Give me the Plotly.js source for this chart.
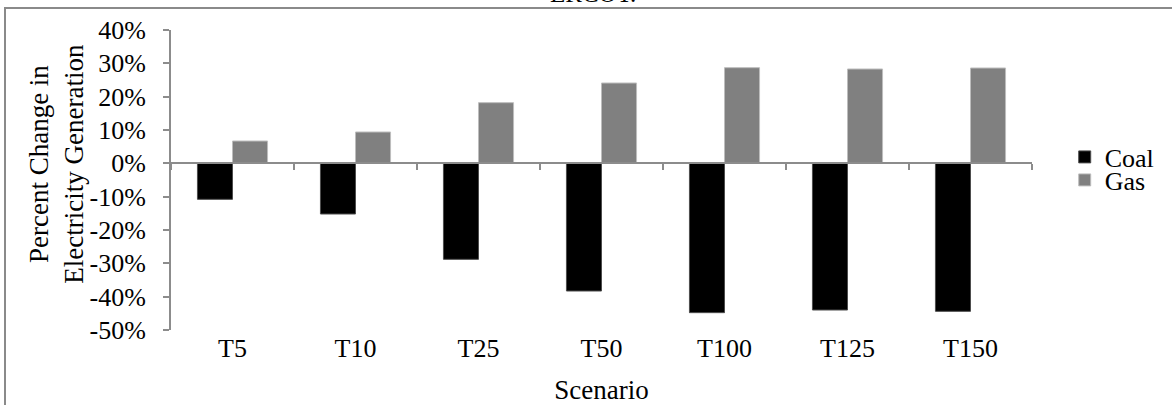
<!DOCTYPE html>
<html>
<head>
<meta charset="utf-8">
<script src="https://cdn.plot.ly/plotly-3.0.1.min.js"></script>
<style>
  html, body { margin: 0; padding: 0; background: #fff; }
  #wrap { position: relative; width: 1172px; height: 405px; overflow: hidden; }
  #chart { width: 1172px; height: 405px; }
  /* open frame around the figure: left and top edges only */
  #frame { position: absolute; left: 4px; top: 7px; width: 1200px; height: 500px;
           border-left: 2px solid #8a8a8a; border-top: 2px solid #8a8a8a;
           pointer-events: none; }
</style>
</head>
<body>
<div id="wrap">
  <div id="chart"></div>
  <div id="frame"></div>
</div>
<script>
// Scenarios and percent change in generation by fuel
const scenarios = ["T5", "T10", "T25", "T50", "T100", "T125", "T150"];
const coalChange = [-10.8, -15.2, -28.8, -38.3, -44.8, -44.0, -44.4];
const gasChange = [6.7, 9.4, 18.2, 24.1, 28.7, 28.3, 28.6];
const yTicks = [40, 30, 20, 10, 0, -10, -20, -30, -40, -50];

const FONT = "Liberation Serif, Times New Roman, serif";
const FS = 26;        // tick labels and legend
const FS_TITLE = 27;  // axis titles
const AXIS_GRAY = "#8c8c8c";
const yMin = -50, yMax = 40;

// plot area in pixels
const M = { l: 171, r: 135, t: 30, b: 75 };
const W = 1172, H = 405;
const plotW = W - M.l - M.r, plotH = H - M.t - M.b;
const px2x = (px) => (px - M.l) / plotW;
const py2y = (py) => (H - M.b - py) / plotH;

const traces = [
  {
    type: "bar", name: "Coal", x: scenarios, y: coalChange, legend: "legend",
    marker: { color: "#000000", line: { color: "#4d4d4d", width: 1 } },
    hoverinfo: "x+y"
  },
  {
    type: "bar", name: "Gas", x: scenarios, y: gasChange, legend: "legend2",
    marker: { color: "#808080", line: { color: "#bdbdbd", width: 1 } },
    hoverinfo: "x+y"
  },
  {
    // carrier for the category axis drawn along the zero line
    type: "scatter", mode: "markers", x: scenarios, y: scenarios.map(() => 0),
    xaxis: "x2", yaxis: "y", marker: { opacity: 0 }, showlegend: false, hoverinfo: "skip"
  }
];

const legendStyle = (yPos) => ({
  x: 1.038, xanchor: "left", y: yPos, yanchor: "middle",
  font: { family: FONT, size: FS, color: "#000" }, bgcolor: "rgba(0,0,0,0)",
  itemwidth: 30
});

const layout = {
  width: W, height: H,
  margin: M,
  paper_bgcolor: "#ffffff", plot_bgcolor: "#ffffff",
  font: { family: FONT, size: FS, color: "#000000" },
  barmode: "group", bargap: 0.43, bargroupgap: 0,
  showlegend: true,
  legend: legendStyle(py2y(157)),
  legend2: legendStyle(py2y(180)),
  annotations: [
    {
      // figure title, running off the top edge
      text: "ERCOT.", showarrow: false, xref: "paper", yref: "paper",
      x: px2x(595), y: py2y(9), xanchor: "center", yanchor: "bottom",
      font: { family: FONT, size: 25, color: "#000" }
    },
    {
      text: "Percent Change in<br>Electricity Generation", showarrow: false,
      xref: "paper", yref: "paper", textangle: -90,
      x: px2x(55), y: py2y(164), xanchor: "center", yanchor: "middle",
      font: { family: FONT, size: FS_TITLE, color: "#000" }
    }
  ],
  xaxis: {
    type: "category", categoryarray: scenarios, range: [-0.5, scenarios.length - 0.5],
    showline: false, showgrid: false, zeroline: false, ticks: "",
    tickfont: { family: FONT, size: FS },
    title: { text: "Scenario", font: { family: FONT, size: FS_TITLE }, standoff: 21 },
    automargin: false
  },
  xaxis2: {
    type: "category", categoryarray: scenarios, range: [-0.5, scenarios.length - 0.5],
    overlaying: "x", anchor: "free", position: (0 - yMin) / (yMax - yMin),
    showline: true, linecolor: AXIS_GRAY, linewidth: 2,
    ticks: "outside", tickson: "boundaries", ticklen: 6, tickwidth: 2, tickcolor: AXIS_GRAY,
    showticklabels: false, showgrid: false, zeroline: false
  },
  yaxis: {
    range: [yMin, yMax], tickvals: yTicks, ticktext: yTicks.map(v => v + "%"),
    showline: true, linecolor: AXIS_GRAY, linewidth: 2,
    ticks: "outside", ticklen: 6, tickwidth: 2, tickcolor: AXIS_GRAY,
    ticklabelstandoff: 12,
    showgrid: false, zeroline: false,
    tickfont: { family: FONT, size: FS },
    automargin: false
  }
};

Plotly.newPlot("chart", traces, layout, { staticPlot: true, displayModeBar: false });
</script>
</body>
</html>
